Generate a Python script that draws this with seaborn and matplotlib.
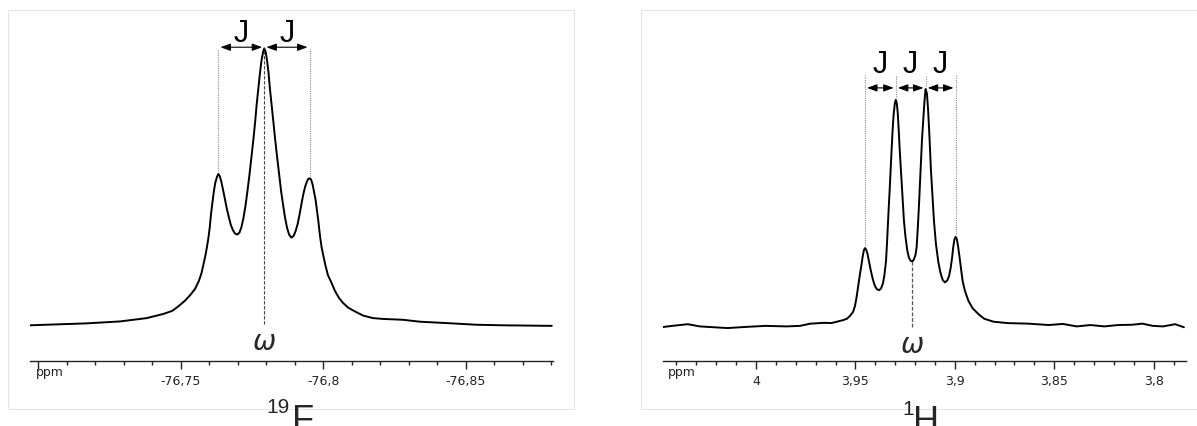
import pandas as pd
import matplotlib
matplotlib.use('Agg')
import matplotlib.pyplot as plt
import matplotlib.ticker as mticker
from matplotlib.patches import Rectangle
import seaborn as sns

# 19F triplet (ppm, intensity in % of the tallest line)
f_ppm = [-76.697, -76.7170, -76.7287, -76.7381, -76.7439, -76.7470, -76.7491, -76.7515,
         -76.7533, -76.7550, -76.7564, -76.7573, -76.7580, -76.7587, -76.7592, -76.7597,
         -76.7602, -76.7606, -76.7611, -76.7616, -76.7621, -76.7627, -76.7632, -76.7637,
         -76.7642, -76.7648, -76.7655, -76.7662, -76.7669, -76.7676, -76.7683, -76.7690,
         -76.7698, -76.7706, -76.7713, -76.7720, -76.7727, -76.7734, -76.7741, -76.7748,
         -76.7755, -76.7761, -76.7766, -76.7772, -76.7778, -76.7783, -76.7789, -76.7793,
         -76.7798, -76.7803, -76.7808, -76.7813, -76.7819, -76.7825, -76.7831, -76.7838,
         -76.7845, -76.7852, -76.7859, -76.7866, -76.7873, -76.7880, -76.7888, -76.7896,
         -76.7903, -76.7910, -76.7917, -76.7924, -76.7930, -76.7936, -76.7942, -76.7947,
         -76.7952, -76.7957, -76.7962, -76.7967, -76.7973, -76.7978, -76.7983, -76.7988,
         -76.7994, -76.8001, -76.8008, -76.8016, -76.8029, -76.8041, -76.8055, -76.8069,
         -76.8087, -76.8111, -76.8140, -76.8174, -76.8210, -76.8279, -76.8339, -76.8433,
         -76.8538, -76.8630, -76.8801]
f_int = [-0.1, 0.6, 1.3, 2.5, 4.0, 5.1, 6.7, 8.8,
         10.8, 13.0, 16.0, 18.8, 22.0, 25.3, 28.2, 31.4,
         35.4, 39.8, 44.1, 48.1, 51.3, 53.5, 54.6, 53.8,
         52.0, 49.1, 45.5, 41.9, 38.9, 36.1, 34.3, 33.1,
         32.7, 33.4, 35.4, 38.7, 43.0, 48.4, 54.2, 60.7,
         67.2, 73.4, 79.3, 85.3, 91.1, 95.4, 98.7, 100.0,
         98.7, 95.4, 91.1, 85.3, 79.3, 73.4, 67.2, 60.7,
         54.6, 48.4, 43.4, 38.7, 35.1, 32.7, 31.6, 32.2,
         34.0, 36.5, 40.1, 44.1, 47.3, 49.9, 51.7, 52.8,
         53.0, 52.6, 51.0, 48.4, 45.2, 41.2, 37.2, 32.5,
         28.1, 24.6, 21.3, 18.1, 15.2, 12.3, 9.8, 8.0,
         6.3, 4.9, 3.4, 2.5, 2.2, 1.9, 1.2, 0.7,
         0.1, -0.1, -0.3]
f_peaks = [-76.7632, -76.7793, -76.7952]
f_heights = [54.6, 100.0, 53.0]
f_omega = -76.7793
f_ticks = [-76.70, -76.75, -76.80, -76.85]
f_ticklabels = ['', '-76,75', '-76,8', '-76,85']

# 1H quartet
h_ppm = [4.0477, 4.0421, 4.0343, 4.0282, 4.0143, 4.0056, 3.9952, 3.9847,
         3.9778, 3.9726, 3.9656, 3.9621, 3.9560, 3.9542, 3.9526, 3.9512,
         3.9502, 3.9494, 3.9485, 3.9477, 3.9469, 3.9463, 3.9457, 3.9452,
         3.9446, 3.9439, 3.9432, 3.9424, 3.9414, 3.9404, 3.9393, 3.9381,
         3.9371, 3.9361, 3.9354, 3.9346, 3.9340, 3.9334, 3.9328, 3.9323,
         3.9318, 3.9313, 3.9308, 3.9302, 3.9297, 3.9292, 3.9287, 3.9282,
         3.9277, 3.9271, 3.9263, 3.9256, 3.9248, 3.9239, 3.9231, 3.9222,
         3.9214, 3.9206, 3.9198, 3.9192, 3.9186, 3.9180, 3.9175, 3.9170,
         3.9165, 3.9159, 3.9153, 3.9147, 3.9140, 3.9134, 3.9127, 3.9120,
         3.9112, 3.9105, 3.9095, 3.9083, 3.9072, 3.9061, 3.9050, 3.9038,
         3.9029, 3.9021, 3.9014, 3.9008, 3.9002, 3.8996, 3.8990, 3.8984,
         3.8977, 3.8970, 3.8961, 3.8949, 3.8932, 3.8911, 3.8882, 3.8853,
         3.8823, 3.8805, 3.8735, 3.8631, 3.8527, 3.8457, 3.8387, 3.8318,
         3.8248, 3.8179, 3.8109, 3.8057, 3.8005, 3.7953, 3.7892, 3.7848]
h_int = [-0.8, -0.3, 0.3, -0.5, -1.1, -0.7, -0.3, -0.5,
         -0.3, 0.5, 0.8, 0.7, 1.8, 2.3, 3.4, 4.7,
         6.9, 10.1, 14.5, 18.4, 22.0, 24.9, 27.1, 27.8,
         27.3, 25.7, 23.1, 20.2, 17.0, 14.5, 13.0, 12.6,
         13.2, 15.2, 18.1, 23.1, 31.1, 40.1, 48.4, 55.8,
         63.2, 70.2, 75.9, 79.9, 81.4, 80.2, 76.6, 70.2,
         63.2, 55.8, 46.3, 37.7, 31.8, 26.9, 24.4, 23.2,
         23.0, 23.7, 25.3, 28.2, 35.4, 43.7, 51.7, 59.4,
         67.2, 73.8, 80.6, 85.3, 83.5, 77.3, 67.2, 55.8,
         46.3, 37.7, 29.3, 22.8, 18.8, 16.3, 15.4, 16.1,
         17.7, 20.6, 24.2, 28.2, 30.9, 31.9, 31.1, 28.6,
         24.9, 21.0, 16.0, 12.3, 8.8, 6.1, 4.0, 2.3,
         1.6, 1.2, 0.7, 0.5, 0.0, 0.4, -0.5, 0.0,
         -0.5, 0.0, 0.1, 0.5, -0.3, -0.5, 0.3, -0.8]
h_peaks = [3.9452, 3.9297, 3.9147, 3.8996]
h_heights = [27.8, 81.4, 85.3, 31.9]
h_omega = 3.9214
h_omega_base = 23.0
h_ticks = [4.0, 3.95, 3.9, 3.85, 3.8]
h_ticklabels = ['4', '3,95', '3,9', '3,85', '3,8']

sns.set_style('white')
plt.rcParams['font.family'] = ['DejaVu Sans']

W, H = 1197, 427
fig = plt.figure(figsize=(W / 100, H / 100), dpi=100)


def px_axes(x0, x1, top, bottom):
    return fig.add_axes([x0 / W, 1 - bottom / H, (x1 - x0) / W, (bottom - top) / H])


def style_axis(ax, xlim, ticks, labels):
    ax.set_xlim(*xlim)
    ax.set_ylim(-13.0, 110.6)
    for s in ['left', 'top', 'right']:
        ax.spines[s].set_visible(False)
    ax.spines['bottom'].set_color('#222222')
    ax.spines['bottom'].set_linewidth(1.0)
    ax.set_yticks([])
    ax.set_xticks(ticks)
    ax.set_xticklabels(labels)
    ax.xaxis.set_minor_locator(mticker.MultipleLocator(0.01))
    ax.tick_params(axis='x', which='both', bottom=True, top=False)
    ax.tick_params(axis='x', which='major', direction='out', length=5.5, width=1,
                   color='#222222', labelsize=9, pad=4, labelcolor='#222222')
    ax.tick_params(axis='x', which='minor', direction='out', length=3, width=1,
                   color='#222222')
    ax.set_xlabel('')
    ax.set_ylabel('')
    ax.set_facecolor('none')


def j_arrows(ax, peaks, level, text_y, dot_top, heights):
    for p, h in zip(peaks, heights):
        if h < dot_top - 3:
            ax.plot([p, p], [h + 1, dot_top], ls=(0, (1, 1)), color='#8c8c8c', lw=0.8)
    for a, b in zip(peaks[:-1], peaks[1:]):
        ax.annotate('', xy=(b, level), xytext=(a, level),
                    arrowprops=dict(arrowstyle='<|-|>,head_length=0.6,head_width=0.22',
                                    color='black', lw=0.8, shrinkA=1.5, shrinkB=1.5,
                                    mutation_scale=10))
        ax.text((a + b) / 2, text_y, 'J', ha='center', va='baseline', fontsize=22,
                family='Liberation Sans', color='black')


# 19F panel
ax1 = px_axes(30, 552.5, 20, 362)
df_f = pd.DataFrame({'ppm': f_ppm, 'intensity': f_int})
sns.lineplot(data=df_f, x='ppm', y='intensity', ax=ax1, color='black', lw=1.4,
             sort=False, estimator=None)
style_axis(ax1, (-76.69716, -76.88036), f_ticks, f_ticklabels)
ax1.plot([f_omega, f_omega], [0.4, max(f_heights)], ls=(0, (3, 1.5)), color='#444444', lw=0.8)
j_arrows(ax1, f_peaks, 100.4, 102.6, 99.7, f_heights)
ax1.text(f_omega, -8.7, 'ω', ha='center', va='baseline', fontsize=20, style='italic')

# 1H panel
ax2 = px_axes(662.7, 1186.3, 20, 362)
df_h = pd.DataFrame({'ppm': h_ppm, 'intensity': h_int})
sns.lineplot(data=df_h, x='ppm', y='intensity', ax=ax2, color='black', lw=1.4,
             sort=False, estimator=None)
style_axis(ax2, (4.0469, 3.7836), h_ticks, h_ticklabels)
ax2.plot([h_omega, h_omega], [-0.8, h_omega_base], ls=(0, (3, 1.5)), color='#555555', lw=0.9)
j_arrows(ax2, h_peaks, 85.7, 91.4, 90.5, h_heights)
ax2.text(h_omega, -9.8, 'ω', ha='center', va='baseline', fontsize=20, style='italic')

# ppm labels at the start of each scale
for x0 in [36, 668]:
    fig.text(x0 / W, 1 - 376 / H, 'ppm', fontsize=9, color='#222222', va='baseline')

# panel frames
for x0, x1 in [(8.3, 574), (641.3, 1205)]:
    fig.patches.append(Rectangle((x0 / W, 1 - 410 / H), (x1 - x0) / W, (410 - 10.7) / H,
                                 transform=fig.transFigure, fill=False,
                                 edgecolor='#e4e4e4', lw=0.8, zorder=0))

# nucleus labels (bottom of the big letter runs off the canvas, as in the source)
fig.text(266 / W, 1 - 413 / H, '19', fontsize=15, family='Liberation Sans', va='baseline')
fig.text(292 / W, 1 - 431 / H, 'F', fontsize=26, family='Liberation Sans', va='baseline')
fig.text(902 / W, 1 - 415 / H, '1', fontsize=15, family='Liberation Sans', va='baseline')
fig.text(912.5 / W, 1 - 432 / H, 'H', fontsize=26, family='Liberation Sans', va='baseline')

fig.savefig('out.png', dpi=100)
